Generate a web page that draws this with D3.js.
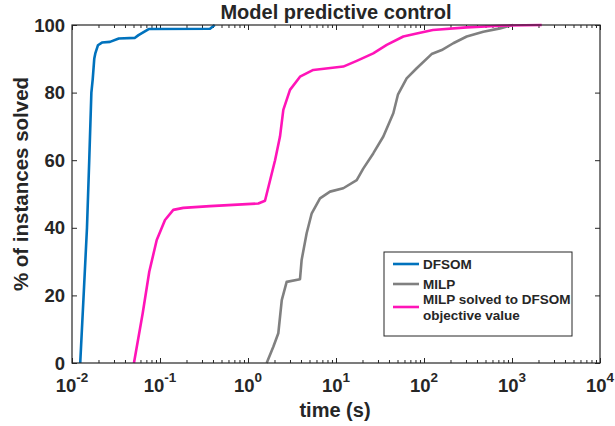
<!DOCTYPE html>
<html lang="en">
<head>
<meta charset="utf-8">
<title>Model predictive control</title>
<script src="https://cdn.jsdelivr.net/npm/d3@7"></script>
<style>
  body { margin: 0; background: #fff; }
  text { font-family: "Liberation Sans", Arial, sans-serif; font-weight: bold; fill: #262626; }
</style>
</head>
<body>
<script>
// time (s) and % of instances solved
var dfsomT   = [0.0124, 0.0136, 0.0148, 0.0157, 0.0166, 0.0172, 0.0179, 0.0184, 0.0197, 0.0219, 0.027, 0.034, 0.052, 0.057, 0.0744, 0.37, 0.419];
var dfsomPct = [0, 20.7, 40, 60, 80, 84, 90, 91.6, 94, 94.8, 95, 96, 96.2, 97, 98.8, 98.9, 100];

var milpT   = [1.63, 1.94, 2.21, 2.42, 2.75, 3.9, 4.07, 4.64, 5.3, 6.58, 8.55, 12.1, 17.2, 20.4, 26.5, 34.5, 44.8, 50.7, 63.5, 82.6, 122, 159, 215, 306, 472, 731, 1026];
var milpPct = [0, 4.8, 8.8, 18.6, 24, 24.8, 30.5, 38.4, 44.3, 48.7, 50.7, 51.7, 54.1, 57.5, 62, 67, 73.9, 79.5, 84.2, 87.2, 91.4, 92.6, 94.6, 96.6, 98, 99, 100];

var objT   = [0.0506, 0.0636, 0.0755, 0.0918, 0.114, 0.1416, 0.184, 0.37, 1.31, 1.56, 1.78, 2.03, 2.31, 2.52, 3.0, 3.9, 5.52, 12.1, 17.2, 26.5, 37.7, 58.2, 82.6, 126, 306, 731, 2176];
var objPct = [0, 14.7, 27, 36.4, 42.3, 45.3, 45.9, 46.4, 47.2, 48, 54, 60, 67, 74.9, 80.8, 84.7, 86.7, 87.7, 89.4, 91.6, 94.1, 96.6, 97.5, 98.5, 99.3, 99.8, 100];

var seriesNames = ["DFSOM", "MILP", "MILP solved to DFSOM|objective value"];
var colors = ["#0072bd", "#808080", "#ff14b8"];
var xExps = [-2, -1, 0, 1, 2, 3, 4];
var yTicks = [0, 20, 40, 60, 80, 100];

var W = 615, H = 426;
var mLeft = 72, mRight = 600, mTop = 25, mBottom = 363;
var axisColor = "#262626";

var svg = d3.select("body").append("svg")
    .attr("width", W)
    .attr("height", H);

var x = d3.scaleLog().domain([1e-2, 1e4]).range([mLeft, mRight]);
var y = d3.scaleLinear().domain([0, 100]).range([mBottom, mTop]);

var majors = xExps.map(function(e) { return Math.pow(10, e); });
var minors = [];
xExps.slice(0, -1).forEach(function(e) {
    for (var k = 2; k <= 9; k++) minors.push(k * Math.pow(10, e));
});

// ticks, all pointing inward, on all four sides
function tickGroup(axis, tx, ty) {
    var g = svg.append("g").attr("transform", "translate(" + tx + "," + ty + ")").call(axis);
    g.select(".domain").remove();
    g.selectAll("line").attr("stroke", axisColor).attr("stroke-width", 1);
    g.selectAll("text").remove();
    return g;
}
tickGroup(d3.axisBottom(x).tickValues(majors).tickSize(-5).tickSizeOuter(0), 0, mBottom);
tickGroup(d3.axisBottom(x).tickValues(minors).tickSize(-3).tickSizeOuter(0), 0, mBottom);
tickGroup(d3.axisTop(x).tickValues(majors).tickSize(-5).tickSizeOuter(0), 0, mTop);
tickGroup(d3.axisTop(x).tickValues(minors).tickSize(-3).tickSizeOuter(0), 0, mTop);
tickGroup(d3.axisLeft(y).tickValues(yTicks).tickSize(-5).tickSizeOuter(0), mLeft, 0);
tickGroup(d3.axisRight(y).tickValues(yTicks).tickSize(-5).tickSizeOuter(0), mRight, 0);

// lines
var line = d3.line()
    .x(function(d) { return x(d[0]); })
    .y(function(d) { return y(d[1]); });

var series = [
    d3.zip(dfsomT, dfsomPct),
    d3.zip(milpT, milpPct),
    d3.zip(objT, objPct)
];

series.forEach(function(s, i) {
    svg.append("path")
        .attr("d", line(s))
        .attr("fill", "none")
        .attr("stroke", colors[i])
        .attr("stroke-width", 2.6)
        .attr("stroke-linejoin", "round");
});

// box
svg.append("rect")
    .attr("x", mLeft).attr("y", mTop)
    .attr("width", mRight - mLeft).attr("height", mBottom - mTop)
    .attr("fill", "none")
    .attr("stroke", axisColor)
    .attr("stroke-width", 1.2);

// y tick labels
svg.selectAll(".ylab").data(yTicks).enter().append("text")
    .attr("x", mLeft - 7)
    .attr("y", function(d) { return y(d); })
    .attr("dy", "0.36em")
    .attr("text-anchor", "end")
    .style("font-size", "18.5px")
    .text(function(d) { return d; });

// x tick labels 10^e
var xl = svg.selectAll(".xlab").data(xExps).enter().append("text")
    .attr("x", function(d) { return x(Math.pow(10, d)); })
    .attr("y", 392)
    .attr("text-anchor", "middle")
    .style("font-size", "18.5px");
xl.append("tspan").text("10");
xl.append("tspan")
    .attr("dy", -10)
    .style("font-size", "13.5px")
    .text(function(d) { return d; });

// titles
svg.append("text")
    .attr("x", 336).attr("y", 19)
    .attr("text-anchor", "middle")
    .style("font-size", "20px")
    .text("Model predictive control");

svg.append("text")
    .attr("x", 335).attr("y", 417)
    .attr("text-anchor", "middle")
    .style("font-size", "20px")
    .text("time (s)");

svg.append("text")
    .attr("transform", "translate(28,184) rotate(-90)")
    .attr("text-anchor", "middle")
    .style("font-size", "20.5px")
    .text("% of instances solved");

// legend
var lg = svg.append("g").attr("transform", "translate(384,252)");
lg.append("rect")
    .attr("width", 188).attr("height", 84)
    .attr("fill", "#fff")
    .attr("stroke", axisColor)
    .attr("stroke-width", 1);

var rowsY = [12, 32, 55];
seriesNames.forEach(function(name, i) {
    var parts = name.split("|");
    lg.append("line")
        .attr("x1", 9).attr("x2", 35)
        .attr("y1", rowsY[i]).attr("y2", rowsY[i])
        .attr("stroke", colors[i])
        .attr("stroke-width", 2.6);
    var t = lg.append("text")
        .attr("x", 39)
        .attr("y", rowsY[i] - (parts.length - 1) * 8)
        .style("font-size", "13.5px");
    parts.forEach(function(p, j) {
        t.append("tspan")
            .attr("x", 39)
            .attr("dy", j === 0 ? "0.36em" : 16)
            .text(p);
    });
});
</script>
</body>
</html>
